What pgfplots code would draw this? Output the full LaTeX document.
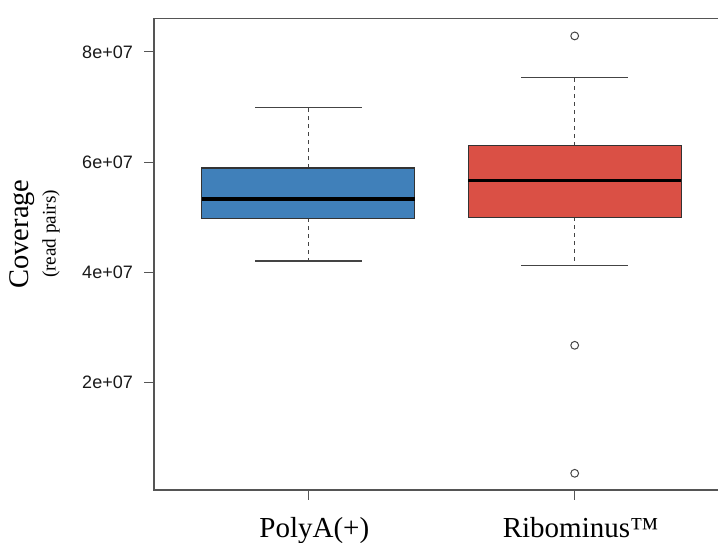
\documentclass[border=0pt]{standalone}
\usepackage{fontspec}
\usepackage{pgfplots}
\pgfplotsset{compat=1.18}
\setmainfont{Liberation Serif}
\newfontfamily\ticksans{Liberation Sans}
\definecolor{boxblue}{HTML}{4080BA}
\definecolor{boxred}{HTML}{DA5045}
\definecolor{axgray}{HTML}{555555}
\definecolor{wgray}{HTML}{444444}
\begin{document}
\begin{tikzpicture}
\useasboundingbox (0,0) rectangle (718pt,543pt);
% y values in units of 1e7 read pairs
% PolyA(+):   lw 4.205, q1 4.98, med 5.33, q3 5.893, uw 6.99
% Ribominus:  lw 4.13,  q1 5.00, med 5.67, q3 6.30,  uw 7.54, outliers 8.29 2.675 0.352
\begin{axis}[
  at={(154pt,53pt)}, anchor=south west,
  scale only axis, width=575.2pt, height=471.7pt,
  xmin=0.4208, xmax=2.58, ymin=0.049, ymax=8.61,
  axis line style={axgray, line width=1.3pt},
  tick align=outside, major tick length=10pt,
  tick style={axgray, line width=1.1pt},
  xtick={1,2}, xticklabels={PolyA(+), Ribominus™},
  xticklabel style={font=\fontsize{29}{29}\selectfont, text=black, inner sep=0pt, yshift=-17pt, xshift=6pt},
  ytick={2,4,6,8}, yticklabels={2e+07,4e+07,6e+07,8e+07},
  yticklabel style={font=\ticksans\fontsize{18}{18}\selectfont, text=black!90, inner sep=0pt, xshift=-11pt},
  xtick pos=bottom, ytick pos=left,
  clip=false,
]
% whiskers (dashed)
\addplot[wgray, line width=1.1pt, dash pattern=on 4pt off 4pt] coordinates {(1,5.893) (1,6.99)};
\addplot[wgray, line width=1.1pt, dash pattern=on 4pt off 4pt] coordinates {(1,4.98) (1,4.205)};
\addplot[wgray, line width=1.1pt, dash pattern=on 4pt off 4pt] coordinates {(2,6.30) (2,7.54)};
\addplot[wgray, line width=1.1pt, dash pattern=on 4pt off 4pt] coordinates {(2,5.00) (2,4.13)};
% caps
\addplot[wgray, line width=1.2pt] coordinates {(0.8,6.99) (1.2,6.99)};
\addplot[wgray, line width=1.2pt] coordinates {(0.8,4.205) (1.2,4.205)};
\addplot[wgray, line width=1.2pt] coordinates {(1.8,7.54) (2.2,7.54)};
\addplot[wgray, line width=1.2pt] coordinates {(1.8,4.13) (2.2,4.13)};
% boxes
\addplot[fill=boxblue, draw=black!80, line width=1.1pt] coordinates {(0.6,4.98) (1.4,4.98) (1.4,5.893) (0.6,5.893)} -- cycle;
\addplot[fill=boxred, draw=black!80, line width=1.1pt] coordinates {(1.6,5.00) (2.4,5.00) (2.4,6.30) (1.6,6.30)} -- cycle;
% medians
\addplot[black, line width=3.2pt] coordinates {(0.6,5.33) (1.4,5.33)};
\addplot[black, line width=3.2pt] coordinates {(1.6,5.67) (2.4,5.67)};
% outliers
\addplot[only marks, mark=o, mark size=3.9pt, mark options={wgray, line width=1pt}] coordinates {(2,8.29) (2,2.675) (2,0.352)};
\end{axis}
\node[rotate=90, font=\fontsize{28.5}{28.5}\selectfont, inner sep=0pt] at (22.5pt,309pt) {Coverage};
\node[rotate=90, font=\fontsize{19.2}{19.2}\selectfont, inner sep=0pt] at (51pt,309pt) {(read pairs)};
\end{tikzpicture}
\end{document}
